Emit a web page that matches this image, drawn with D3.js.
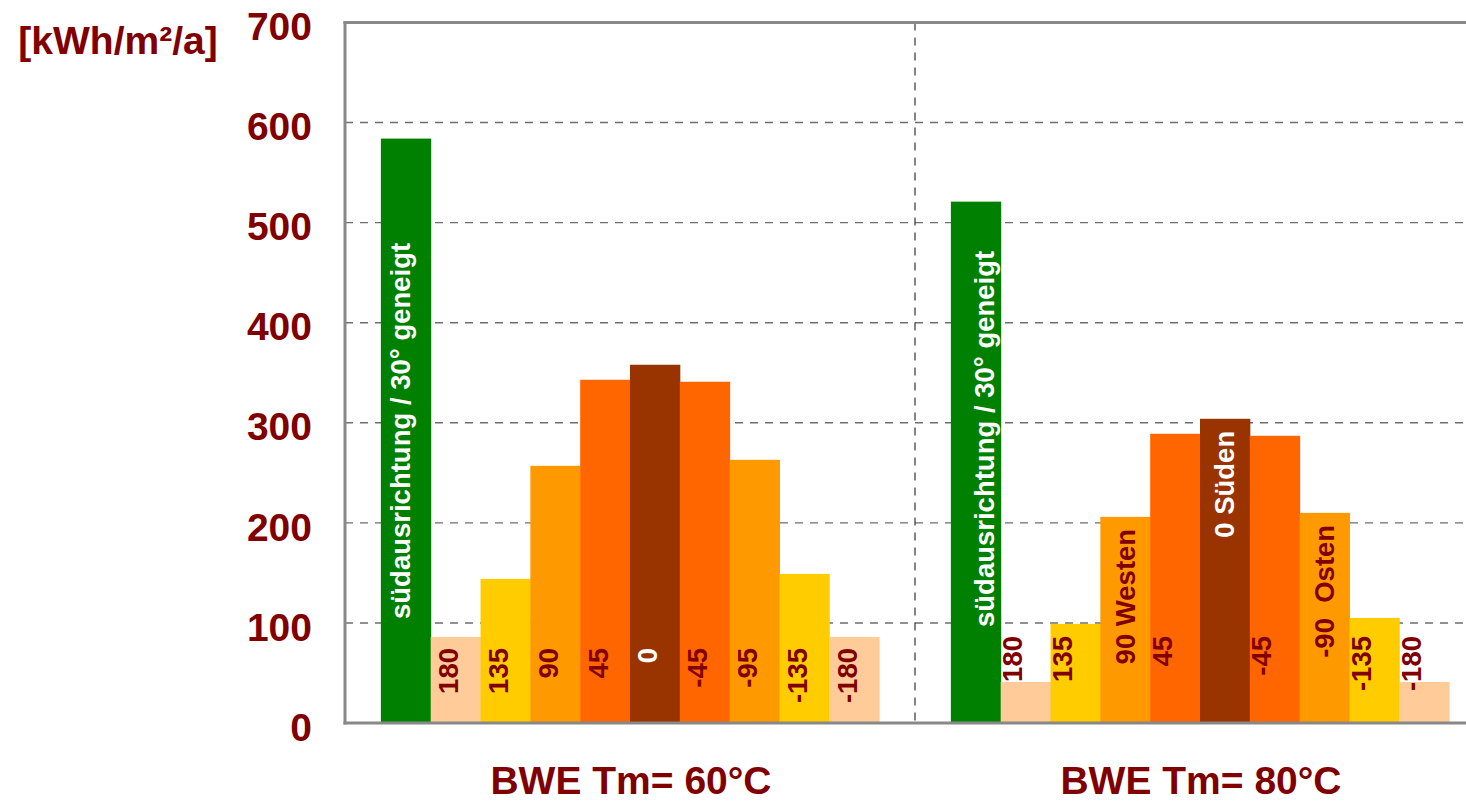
<!DOCTYPE html>
<html>
<head>
<meta charset="utf-8">
<script src="https://cdn.jsdelivr.net/npm/d3@7/dist/d3.min.js"></script>
<style>
  html, body { margin: 0; padding: 0; background: #fff; overflow: hidden; }
  svg { display: block; }
  text { font-family: "Liberation Sans", Arial, sans-serif; font-weight: bold; }
</style>
</head>
<body>
<svg id="chart" width="1466" height="802"></svg>
<script>
// ---- data ----
const categories = ["BWE Tm= 60°C", "BWE Tm= 80°C"];
const orientations = ["ref", "180", "135", "90", "45", "0", "-45", "-90", "-135", "-180"];
const values60 = [584, 86, 144, 257, 343, 358, 341, 263, 149, 86];
const values80 = [521, 41, 99, 206, 289, 304, 287, 210, 105, 41];
const labels60 = ["südausrichtung / 30° geneigt", "180", "135", "90", "45", "0", "-45", "-95", "-135", "-180"];
const labels80 = ["südausrichtung / 30° geneigt", "180", "135", "90 Westen", "45", "0 Süden", "-45", "-90  Osten", "-135", "-180"];
const yTicks = [0, 100, 200, 300, 400, 500, 600, 700];
const yTitle = "[kWh/m²/a]";

// ---- styles / layout ----
const palette = ["#008000", "#FFCC99", "#FFCC00", "#FF9900", "#FF6600", "#993300", "#FF6600", "#FF9900", "#FFCC00", "#FFCC99"];
const textRed = "#800000";
const plot = { left: 345, right: 1485, top: 22.5, bottom: 723 };
const shortShift = [-7, -13];
const shortTop = [648, 636];
const greenShift = [-5, 9];
const greenBase = [619, 627];

const svg = d3.select("#chart");
const data = categories.map((c, gi) => ({
  cat: c,
  gi,
  bars: orientations.map((o, i) => ({
    key: o, i, gi,
    value: gi === 0 ? values60[i] : values80[i],
    label: gi === 0 ? labels60[i] : labels80[i]
  }))
}));

const x0 = d3.scaleBand().domain(categories).range([plot.left, plot.right]).paddingInner(0).paddingOuter(0);
const x1 = d3.scaleBand().domain(orientations).range([0, x0.bandwidth()]).paddingInner(0).paddingOuter(0.72);
const y = d3.scaleLinear().domain([0, 700]).range([plot.bottom, plot.top]);

// gridlines
svg.append("g").selectAll("line").data(yTicks.filter(t => t > 0 && t < 700)).join("line")
  .attr("x1", plot.left).attr("x2", plot.right)
  .attr("y1", d => y(d)).attr("y2", d => y(d))
  .attr("stroke", "#6e6e6e").attr("stroke-width", 1.4).attr("stroke-dasharray", "8,7");

// category separator
svg.append("line")
  .attr("x1", x0(categories[1])).attr("x2", x0(categories[1]))
  .attr("y1", plot.top).attr("y2", plot.bottom)
  .attr("stroke", "#333").attr("stroke-width", 1.2).attr("stroke-dasharray", "8,7");

// bars
const groups = svg.append("g").selectAll("g").data(data).join("g")
  .attr("transform", d => `translate(${x0(d.cat)},0)`);
groups.selectAll("rect").data(d => d.bars).join("rect")
  .attr("x", d => x1(d.key))
  .attr("width", x1.bandwidth() + 0.5)
  .attr("y", d => y(d.value))
  .attr("height", d => y(0) - y(d.value))
  .attr("fill", (d, i) => palette[i]);

// bar labels
groups.selectAll("text").data(d => d.bars).join("text")
  .attr("transform", d => {
    const cx = x1(d.key) + x1.bandwidth() / 2;
    let xx, yy;
    if (d.i === 0) { xx = cx + greenShift[d.gi]; yy = greenBase[d.gi]; }
    else if (d.label.indexOf(" ") >= 0) { xx = cx; yy = y(d.value) + 12; }
    else { xx = cx + shortShift[d.gi]; yy = shortTop[d.gi]; }
    return `translate(${xx},${yy}) rotate(-90)`;
  })
  .attr("text-anchor", d => d.i === 0 ? "start" : "end")
  .attr("dominant-baseline", "central")
  .style("white-space", "pre")
  .attr("font-size", 27.5)
  .attr("fill", d => (d.i === 0 || d.i === 5) ? "#ffffff" : textRed)
  .text(d => d.label);

// axes frame
const frame = svg.append("g").attr("stroke", "#888").attr("stroke-width", 3).attr("fill", "none");
frame.append("line").attr("x1", plot.left).attr("x2", plot.left).attr("y1", plot.top - 1.5).attr("y2", plot.bottom + 1.5);
frame.append("line").attr("x1", plot.left - 1.5).attr("x2", plot.right).attr("y1", plot.bottom).attr("y2", plot.bottom);
frame.append("line").attr("x1", plot.left - 1.5).attr("x2", plot.right).attr("y1", plot.top).attr("y2", plot.top);

// y axis labels
const yAxis = svg.append("g").attr("transform", `translate(${plot.left},0)`)
  .call(d3.axisLeft(y).tickValues(yTicks).tickSize(0).tickPadding(33).tickFormat(d3.format("d")));
yAxis.select(".domain").remove();
yAxis.selectAll("text")
  .attr("font-size", 39).attr("fill", textRed).attr("dy", "0.44em")
  .attr("font-family", "'Liberation Sans', Arial, sans-serif").attr("font-weight", "bold");

// category labels
svg.append("g").selectAll("text").data(categories).join("text")
  .attr("x", d => x0(d) + x0.bandwidth() / 2 + 1)
  .attr("y", 794)
  .attr("text-anchor", "middle")
  .attr("font-size", 39)
  .attr("fill", textRed)
  .text(d => d);

// y title
svg.append("text")
  .attr("x", 118).attr("y", 54)
  .attr("text-anchor", "middle")
  .attr("font-size", 39)
  .attr("fill", textRed)
  .text(yTitle);
</script>
</body>
</html>
